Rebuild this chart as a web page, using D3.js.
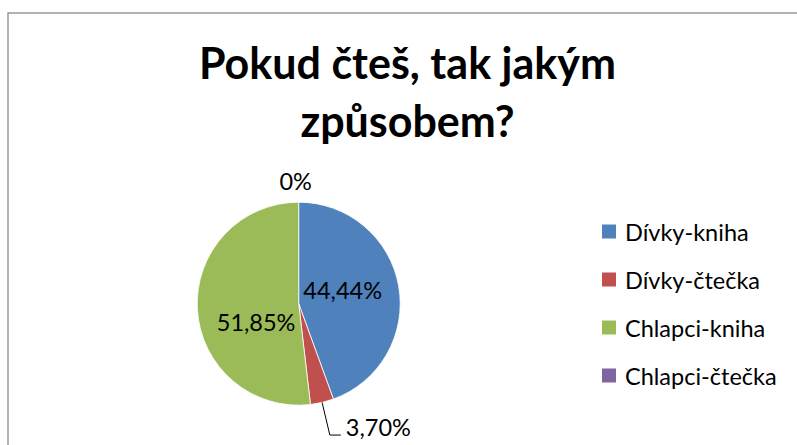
<!DOCTYPE html>
<html>
<head>
<meta charset="utf-8">
<script src="https://cdn.jsdelivr.net/npm/d3@7"></script>
<style>
  body { margin: 0; background: #fff; }
  svg { display: block; }
</style>
</head>
<body>
<div id="chart"></div>
<script>
// data
var categories = ["Dívky-kniha", "Dívky-čtečka", "Chlapci-kniha", "Chlapci-čtečka"];
var counts = [12, 1, 14, 0];
var labels = ["44,44%", "3,70%", "51,85%", "0%"];
var colors = ["#4F81BD", "#C0504D", "#9BBB59", "#8064A2"];
var title = ["Pokud čteš, tak jakým", "způsobem?"];

var width = 797, height = 445;
var cx = 298.7, cy = 303.7, radius = 101.5;

var svg = d3.select("#chart")
  .append("svg")
    .attr("width", width)
    .attr("height", height);

// chart border (runs off the right and bottom edge)
svg.append("rect")
  .attr("x", 8)
  .attr("y", 13)
  .attr("width", 820)
  .attr("height", 460)
  .attr("fill", "none")
  .attr("stroke", "#8a8a8a")
  .attr("stroke-width", 1.3);

// title
svg.append("g")
  .selectAll("text")
  .data(title)
  .enter()
  .append("text")
    .attr("x", 407.5)
    .attr("y", function(d, i) { return 78.5 + i * 58.5; })
    .attr("text-anchor", "middle")
    .attr("font-family", "Lato, sans-serif")
    .attr("font-weight", "bold")
    .attr("font-size", "43px")
    .attr("fill", "#000")
    .text(function(d) { return d; });

// pie
var pie = d3.pie().sort(null).value(function(d) { return d; });
var arcs = pie(counts);
var arc = d3.arc().innerRadius(0).outerRadius(radius);
var labelArc = d3.arc().innerRadius(radius * 0.92).outerRadius(radius * 0.92);
var outerArc = d3.arc().innerRadius(radius + 21).outerRadius(radius + 21);
var leaderArc = d3.arc().innerRadius(radius + 33.5).outerRadius(radius + 33.5);

var g = svg.append("g")
  .attr("transform", "translate(" + cx + "," + cy + ")");

g.selectAll("path")
  .data(arcs)
  .enter()
  .append("path")
    .attr("d", arc)
    .attr("fill", function(d, i) { return colors[i]; })
    .attr("stroke", "#fff")
    .attr("stroke-width", function(d) { return d.value > 0 ? 0.8 : 0; });

function midPoint(a, r) {
  var m = (a.startAngle + a.endAngle) / 2;
  return [Math.sin(m) * r, -Math.cos(m) * r];
}

// label placement: inside for big slices, outside for small ones
var nudge = { 0: [-2, -6], 2: [4, 16] };

arcs.forEach(function(a, i) {
  var share = a.value / d3.sum(counts);
  var style = function(t) {
    return t.attr("font-family", "Lato, sans-serif")
      .attr("font-size", "23.5px")
      .attr("fill", "#000")
      .text(labels[i]);
  };
  if (share > 0.1) {
    var c = labelArc.centroid(a).map(function(v) { return v * 0.5; });
    var n = nudge[i] || [0, 0];
    style(g.append("text")
      .attr("x", c[0] + n[0])
      .attr("y", c[1] + n[1])
      .attr("text-anchor", "middle")
      .attr("dominant-baseline", "central"));
  } else if (share === 0) {
    var p = outerArc.centroid(a);
    style(g.append("text")
      .attr("x", p[0] - 3)
      .attr("y", p[1])
      .attr("text-anchor", "middle")
      .attr("dominant-baseline", "central"));
  } else {
    var p0 = midPoint(a, radius);
    var p1 = leaderArc.centroid(a);
    var p2 = [p1[0] + 11, p1[1]];
    g.append("polyline")
      .attr("points", [p0, p1, p2].map(function(p) { return p.join(","); }).join(" "))
      .attr("fill", "none")
      .attr("stroke", "#000")
      .attr("stroke-width", 1);
    style(g.append("text")
      .attr("x", p2[0] + 5)
      .attr("y", p2[1] + 0.5)
      .attr("text-anchor", "start"));
  }
});

// legend
var legend = svg.append("g")
  .attr("transform", "translate(602,231.5)");

var item = legend.selectAll("g")
  .data(categories)
  .enter()
  .append("g")
    .attr("transform", function(d, i) { return "translate(0," + (i * 48) + ")"; });

item.append("rect")
  .attr("x", 0)
  .attr("y", -7)
  .attr("width", 14)
  .attr("height", 14)
  .attr("fill", function(d, i) { return colors[i]; });

item.append("text")
  .attr("x", 23)
  .attr("y", 0)
  .attr("dominant-baseline", "central")
  .attr("font-family", "Lato, sans-serif")
  .attr("font-size", "23.5px")
  .attr("fill", "#000")
  .text(function(d) { return d; });
</script>
</body>
</html>
